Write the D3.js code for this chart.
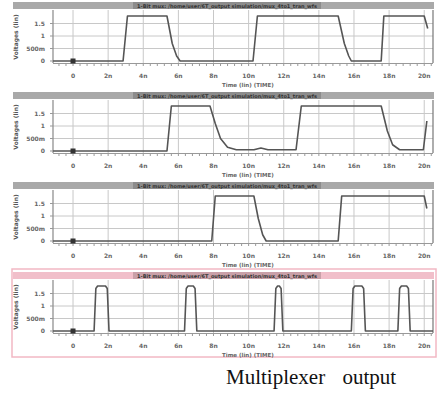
<!DOCTYPE html>
<html>
<head>
<meta charset="utf-8">
<script src="https://cdn.jsdelivr.net/npm/d3@7"></script>
<style>
body { margin: 0; background: #fff; }
svg { display: block; }
</style>
</head>
<body>
<div id="chart"></div>
<script>
// waveform samples: [time in ns, volts]
var wave1 = [[-1.14,0],[2.85,0],[3.1,1.8],[5.35,1.8],[5.65,0.7],[5.9,0.2],[6.1,0],[10.25,0],[10.5,1.8],[15.1,1.8],[15.45,0.7],[15.7,0.2],[15.85,0],[17.55,0],[17.7,1.8],[20,1.8],[20.2,1.3]];
var wave2 = [[-1.14,0],[5.35,0],[5.6,1.8],[7.8,1.8],[8.1,1.1],[8.4,0.5],[8.8,0.15],[9.3,0.05],[10.3,0.05],[10.7,0.12],[11.1,0.05],[12.7,0.05],[13.0,1.8],[17.55,1.8],[17.9,0.8],[18.2,0.25],[18.6,0.05],[19.95,0.05],[20.15,1.2]];
var wave3 = [[-1.14,0],[7.9,0],[8.1,1.8],[10.3,1.8],[10.55,0.9],[10.8,0.25],[11.0,0],[15.1,0],[15.3,1.8],[20,1.8],[20.15,1.3]];
var wave4 = [[-1.14,0],[1.2,0],[1.3,1.7],[1.4,1.8],[1.85,1.8],[1.95,1.7],[2.05,0],[6.35,0],[6.45,1.7],[6.55,1.8],[6.85,1.8],[6.95,1.7],[7.05,0],[11.45,0],[11.55,1.7],[11.65,1.8],[11.75,1.8],[11.85,1.7],[11.95,0],[15.85,0],[15.95,1.7],[16.05,1.8],[16.45,1.8],[16.55,1.7],[16.65,0],[18.5,0],[18.6,1.7],[18.7,1.8],[19.0,1.8],[19.1,1.7],[19.2,0],[20.5,0]];
var waves = [wave1, wave2, wave3, wave4];

var xTicks = [0, 2, 4, 6, 8, 10, 12, 14, 16, 18, 20];
var xTickLabels = ["0", "2n", "4n", "6n", "8n", "10n", "12n", "14n", "16n", "18n", "20n"];
var yTicks = [0, 0.5, 1, 1.5];
var yTickLabels = ["0", "500m", "1", "1.5"];
var panelTitle = "1-Bit mux: /home/user/6T_output simulation/mux_4to1_tran_wfs";
var xTitle = "Time (lin) (TIME)";
var yTitle = "Voltages (lin)";
var caption = "Multiplexer output";

var w = 442, h = 396;
var panelH = 90;

var svg = d3.select("#chart").append("svg")
	.attr("width", w)
	.attr("height", h);

var x = d3.scaleLinear().domain([-1.14, 20.5]).range([53, 433]);
var minorX = d3.range(-0.8, 20.5, 0.4);

waves.forEach(function(wave, i) {
	var top = i * panelH;
	var selected = (i == 3);
	var y = d3.scaleLinear().domain([-0.08, 2.04]).range([top + 63, top + 10]);
	var g = svg.append("g");

	// pink frame on the selected panel
	if (selected) {
		g.append("rect")
			.attr("x", 12).attr("y", top - 1)
			.attr("width", 424).attr("height", 88)
			.attr("fill", "none")
			.attr("stroke", "#f2b8c4")
			.attr("stroke-width", 1.5);
	}

	// title bar
	g.append("rect")
		.attr("x", 13).attr("y", top + 2)
		.attr("width", 421).attr("height", 7)
		.attr("fill", selected ? "#f1bfca" : "#a9a9a9");
	g.append("rect")
		.attr("x", 133).attr("y", top + 2)
		.attr("width", 188).attr("height", 7)
		.attr("fill", selected ? "#c9a0a8" : "#8c8c8c");
	g.append("text")
		.attr("x", 227).attr("y", top + 7.5)
		.attr("text-anchor", "middle")
		.attr("font-family", "DejaVu Sans")
		.attr("font-size", 5)
		.attr("font-weight", "bold")
		.attr("fill", "#333")
		.text(panelTitle);

	// vertical grid
	g.selectAll(".vg")
		.data(xTicks)
		.enter()
		.append("line")
		.attr("x1", function(d) { return x(d); })
		.attr("x2", function(d) { return x(d); })
		.attr("y1", top + 10)
		.attr("y2", top + 63)
		.attr("stroke", "#c8c8c8")
		.attr("stroke-width", 1);

	// horizontal grid
	g.selectAll(".hg")
		.data(yTicks.slice(1))
		.enter()
		.append("line")
		.attr("x1", 53)
		.attr("x2", 433)
		.attr("y1", function(d) { return y(d); })
		.attr("y2", function(d) { return y(d); })
		.attr("stroke", "#c8c8c8")
		.attr("stroke-width", 1);

	// plot border
	g.append("line").attr("x1", 53).attr("x2", 53).attr("y1", top + 10).attr("y2", top + 63)
		.attr("stroke", "#888").attr("stroke-width", 1.2);
	g.append("line").attr("x1", 433).attr("x2", 433).attr("y1", top + 10).attr("y2", top + 63)
		.attr("stroke", "#777").attr("stroke-width", 1.2);
	g.append("line").attr("x1", 53).attr("x2", 433).attr("y1", top + 63.5).attr("y2", top + 63.5)
		.attr("stroke", "#999").attr("stroke-width", 1);

	// minor ticks along bottom
	g.selectAll(".mt")
		.data(minorX)
		.enter()
		.append("line")
		.attr("x1", function(d) { return x(d); })
		.attr("x2", function(d) { return x(d); })
		.attr("y1", top + 63)
		.attr("y2", top + 66)
		.attr("stroke", "#999")
		.attr("stroke-width", 1);

	// y tick labels
	g.selectAll(".yl")
		.data(yTicks)
		.enter()
		.append("text")
		.attr("x", 45)
		.attr("y", function(d) { return y(d) + 2; })
		.attr("text-anchor", "end")
		.attr("font-family", "DejaVu Sans")
		.attr("font-size", 6)
		.attr("font-weight", "bold")
		.attr("fill", "#666")
		.text(function(d, k) { return yTickLabels[k]; });

	g.selectAll(".yt")
		.data(yTicks)
		.enter()
		.append("line")
		.attr("x1", 50)
		.attr("x2", 53)
		.attr("y1", function(d) { return y(d); })
		.attr("y2", function(d) { return y(d); })
		.attr("stroke", "#999");

	// x tick labels
	g.selectAll(".xl")
		.data(xTicks)
		.enter()
		.append("text")
		.attr("x", function(d) { return x(d); })
		.attr("y", top + 78)
		.attr("text-anchor", "middle")
		.attr("font-family", "DejaVu Sans")
		.attr("font-size", 6)
		.attr("font-weight", "bold")
		.attr("fill", "#666")
		.text(function(d, k) { return xTickLabels[k]; });

	// axis titles
	g.append("text")
		.attr("x", 222).attr("y", top + 87)
		.attr("font-family", "DejaVu Sans")
		.attr("font-size", 5.5)
		.attr("font-weight", "bold")
		.attr("fill", "#666")
		.text(xTitle);
	g.append("text")
		.attr("transform", "translate(18," + (top + 37) + ") rotate(-90)")
		.attr("text-anchor", "middle")
		.attr("font-family", "DejaVu Sans")
		.attr("font-size", 6)
		.attr("font-weight", "bold")
		.attr("fill", "#555")
		.text(yTitle);

	// trace
	var line = d3.line()
		.x(function(d) { return x(d[0]); })
		.y(function(d) { return y(d[1]); });
	g.append("path")
		.datum(wave)
		.attr("d", line)
		.attr("fill", "none")
		.attr("stroke", "#555")
		.attr("stroke-width", 1.6)
		.attr("stroke-linejoin", "round");

	// origin marker
	g.append("rect")
		.attr("x", x(0) - 2.5).attr("y", y(0) - 2.5)
		.attr("width", 5).attr("height", 5)
		.attr("fill", "#333");
});

svg.append("text")
	.attr("x", 226).attr("y", 384)
	.attr("font-family", "Liberation Serif")
	.attr("font-size", 21)
	.attr("word-spacing", 12)
	.attr("fill", "#111")
	.text(caption);
</script>
</body>
</html>
